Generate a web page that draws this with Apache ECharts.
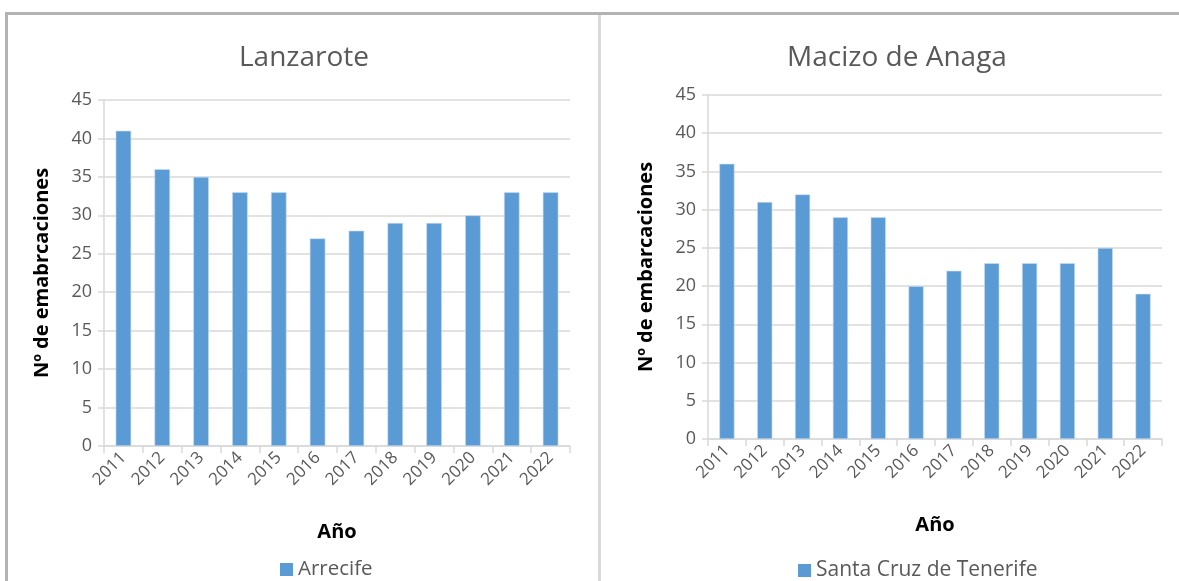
<!DOCTYPE html>
<html>
<head>
<meta charset="utf-8">
<script src="https://cdn.jsdelivr.net/npm/echarts@6/dist/echarts.min.js"></script>
<style>
html,body{margin:0;padding:0;background:#fff;}
#c{width:1179px;height:581px;}
</style>
</head>
<body>
<div id="c"></div>
<script>
const years = ['2011','2012','2013','2014','2015','2016','2017','2018','2019','2020','2021','2022'];
const lanzaroteValues = [41, 36, 35, 33, 33, 27, 28, 29, 29, 30, 33, 33];
const anagaValues = [36, 31, 32, 29, 29, 20, 22, 23, 23, 23, 25, 19];
const titles = ['Lanzarote', 'Macizo de Anaga'];
const seriesNames = ['Arrecife', 'Santa Cruz de Tenerife'];
const yNames = ['Nº de emabrcaciones', 'Nº de embarcaciones'];
const xName = 'Año';

const FONT = '"Open Sans", Lato, sans-serif';
const GREY = '#595959';
const BAR = '#5b9bd5';

function xAxis(gi){
  return {
    type:'category', gridIndex:gi, data:years,
    axisLine:{show:true,lineStyle:{color:'#d9d9d9',width:1.5}},
    axisTick:{show:true,length:7,alignWithLabel:false,lineStyle:{color:'#d9d9d9',width:1.5}},
    axisLabel:{rotate:45,color:GREY,fontFamily:FONT,fontSize:17,margin:9,interval:0},
    name:xName,nameLocation:'middle',nameGap:76,nameMoveOverlap:false,
    nameTextStyle:{color:'#000',fontFamily:FONT,fontSize:20,fontWeight:'bold'}
  };
}
function yAxis(gi){
  return {
    type:'value', gridIndex:gi, min:0, max:45, interval:5,
    axisLine:{show:true,lineStyle:{color:'#d9d9d9',width:1.5}},
    axisTick:{show:true,length:6,lineStyle:{color:'#d9d9d9',width:1.5}},
    splitLine:{show:true,lineStyle:{color:'#d9d9d9',width:1.5}},
    axisLabel:{color:GREY,fontFamily:FONT,fontSize:18,margin:12},
    name:yNames[gi],nameLocation:'middle',nameGap:52,nameRotate:90,nameMoveOverlap:false,
    nameTextStyle:{color:'#000',fontFamily:FONT,fontSize:20,fontWeight:'bold'}
  };
}
function series(gi, vals){
  return {
    type:'bar', name:seriesNames[gi], xAxisIndex:gi, yAxisIndex:gi, data:vals,
    barWidth:'40%',
    itemStyle:{color:BAR,borderColor:'#c9ddf1',borderWidth:0.6},
    emphasis:{disabled:true}
  };
}

const chart = echarts.init(document.getElementById('c'), null, {renderer:'canvas'});
chart.setOption({
  animation:false,
  backgroundColor:'#fff',
  title:[
    {text:titles[0],left:299,top:39,textAlign:'center',textStyle:{color:GREY,fontFamily:FONT,fontSize:28,fontWeight:'normal'}},
    {text:titles[1],left:892,top:39,textAlign:'center',textStyle:{color:GREY,fontFamily:FONT,fontSize:28,fontWeight:'normal'}}
  ],
  legend:[
    {data:[seriesNames[0]],left:275,top:554,itemWidth:13,itemHeight:13,itemGap:5,icon:'rect',
     itemStyle:{borderWidth:0},
     textStyle:{color:GREY,fontFamily:FONT,fontSize:20.5},selectedMode:false},
    {data:[seriesNames[1]],left:793,top:555,itemWidth:13,itemHeight:13,itemGap:5,icon:'rect',
     itemStyle:{borderWidth:0},
     textStyle:{color:GREY,fontFamily:FONT,fontSize:21},selectedMode:false}
  ],
  grid:[
    {left:104,right:609,top:100,bottom:135},
    {left:708,right:17,top:95,bottom:142}
  ],
  xAxis:[xAxis(0),xAxis(1)],
  yAxis:[yAxis(0),yAxis(1)],
  series:[series(0,lanzaroteValues),series(1,anagaValues)],
  graphic:[
    {type:'line',shape:{x1:5,y1:13.5,x2:1179,y2:13.5},style:{stroke:'#b3b3b3',lineWidth:3},silent:true},
    {type:'line',shape:{x1:6.5,y1:12,x2:6.5,y2:581},style:{stroke:'#b3b3b3',lineWidth:3},silent:true},
    {type:'line',shape:{x1:599.5,y1:15,x2:599.5,y2:581},style:{stroke:'#d9d9d9',lineWidth:3},silent:true}
  ]
});
</script>
</body>
</html>
